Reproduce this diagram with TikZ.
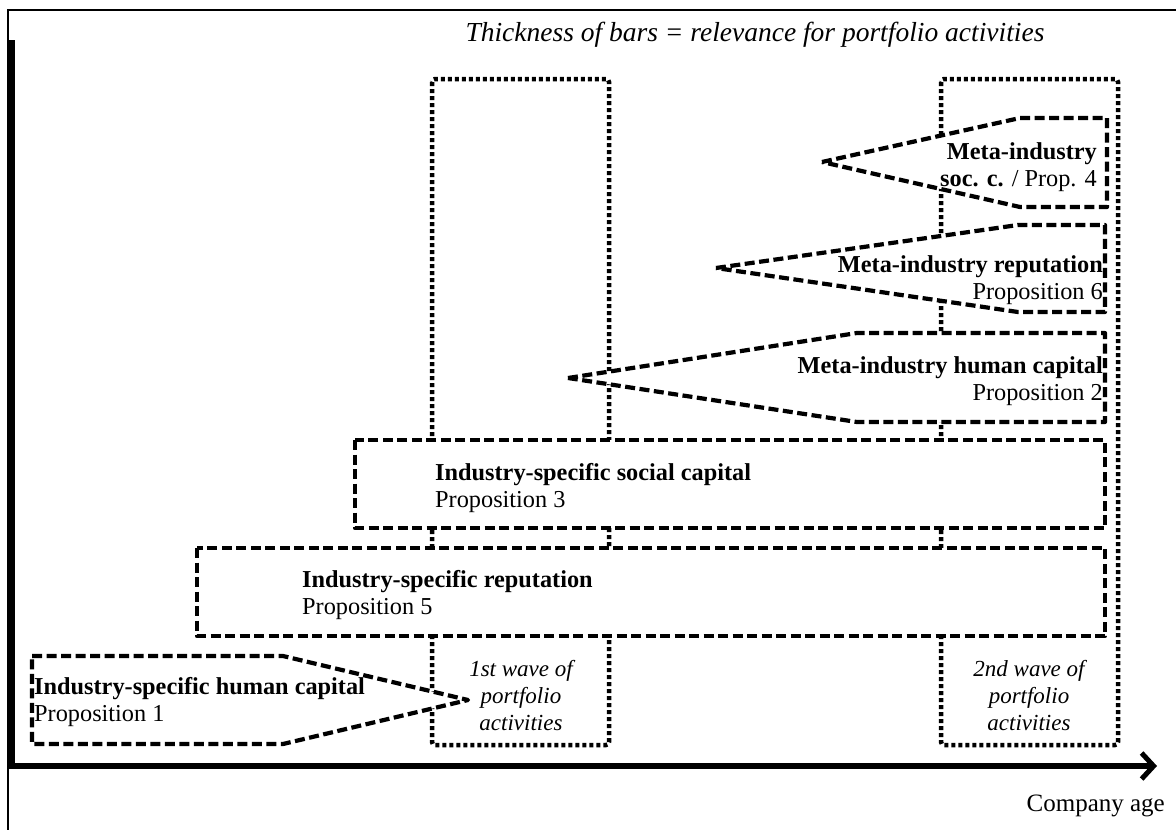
\documentclass[tikz,border=0pt]{standalone}
\usepackage{fontspec}
\setmainfont{Liberation Serif}
\usetikzlibrary{arrows.meta}
\begin{document}
\begin{tikzpicture}[x=1pt,y=-1pt,
  dotbox/.style={line width=4.5pt, dash pattern=on 4pt off 3pt, rounded corners=3pt},
  dashshape/.style={line width=4.2pt, dash pattern=on 10pt off 4.5pt, fill=white, line join=round},
  lbl/.style={inner sep=0pt, font=\fontsize{24.3}{27}\selectfont},
  wave/.style={inner sep=0pt, align=center, font=\fontsize{23}{27}\selectfont\itshape}]
\useasboundingbox (0,0) rectangle (1176,830);
% frame
\coordinate (fr1) at (1176,10);
\coordinate (fr2) at (8,10);
\coordinate (fr3) at (8,830);
\draw[line width=2.5pt] (fr1) -- (fr2) -- (fr3);
% axes
\coordinate (ytop) at (11.5,40);
\coordinate (ybot) at (11.5,766);
\coordinate (xo) at (8,766);
\coordinate (xend) at (1157,766);
\draw[line width=7pt] (ytop) -- (ybot);
\draw[line width=5.5pt, -{Straight Barb[length=12pt,width=26pt,line width=5pt]}] (xo) -- (xend);
% waves
\draw[dotbox] (432,79) rectangle (609,745);
\draw[dotbox] (941,79) rectangle (1118,745);
% bars
\draw[dashshape] (32,656) -- (283,656) -- (468,700) -- (283,744) -- (32,744) -- cycle;
\draw[dashshape] (197,548) rectangle (1105,636);
\draw[dashshape] (355,440) rectangle (1105,528);
\draw[dashshape] (568,378) -- (857,333) -- (1105,333) -- (1105,422) -- (857,422) -- cycle;
\draw[dashshape] (716,268) -- (1018,225) -- (1105,225) -- (1105,312) -- (1018,312) -- cycle;
\draw[dashshape] (822,162) -- (1020,118) -- (1107,118) -- (1107,207) -- (1020,207) -- cycle;
% texts
\node[lbl, align=left, anchor=west] (ihc) at (34,702) {\textbf{Industry-specific human capital}\\Proposition 1};
\node[lbl, align=left, anchor=west] (isr) at (302,595) {\textbf{Industry-specific reputation}\\Proposition 5};
\node[lbl, align=left, anchor=west] (iss) at (435,488) {\textbf{Industry-specific social capital}\\Proposition 3};
\node[lbl, align=right, anchor=east] (mhc) at (1103,381) {\textbf{Meta-industry human capital}\\Proposition 2};
\node[lbl, align=right, anchor=east] (mr) at (1103,280) {\textbf{Meta-industry reputation}\\Proposition 6};
\node[lbl, align=right, anchor=east] (msc) at (1097,167) {\textbf{Meta-industry}\\\textbf{soc. c.} / Prop. 4};
\node[wave] (w1) at (521,696) {1st wave of\\portfolio\\activities};
\node[wave] (w2) at (1029,696) {2nd wave of\\portfolio\\activities};
\node[lbl, font=\fontsize{27.5}{30}\selectfont\itshape] (title) at (755,35) {Thickness of bars = relevance for portfolio activities};
\node[lbl, font=\fontsize{25}{29}\selectfont, anchor=east] (age) at (1165,806) {Company age};
\end{tikzpicture}
\end{document}
